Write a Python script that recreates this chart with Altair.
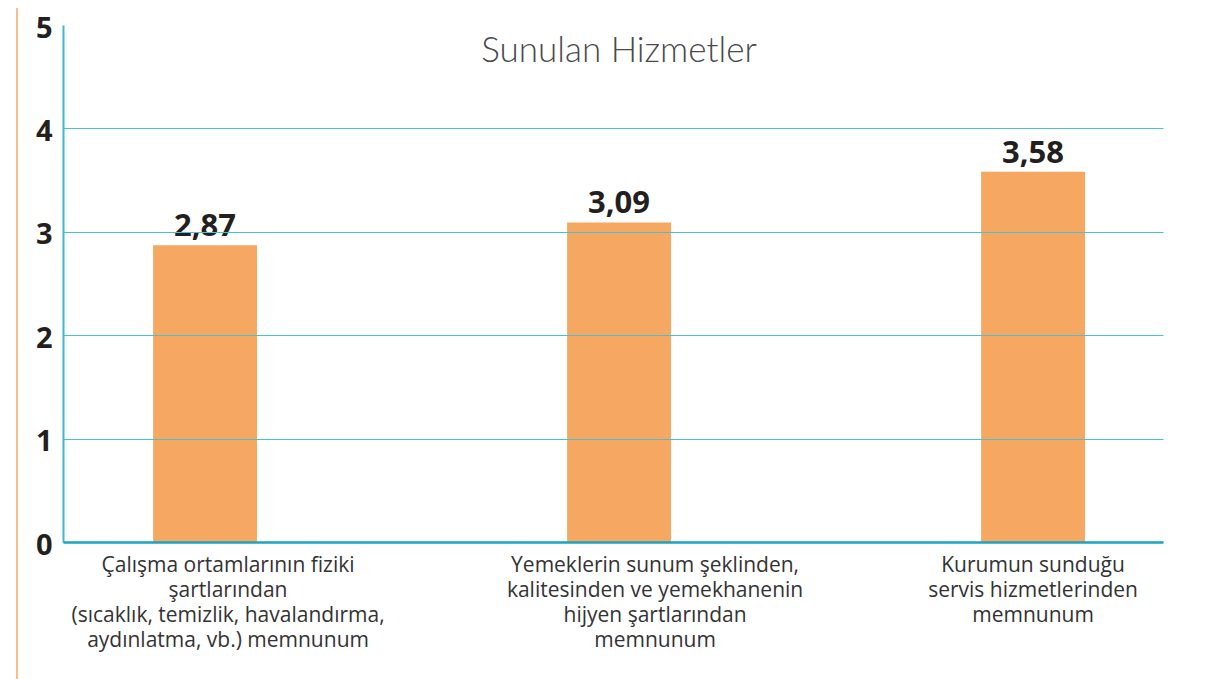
import altair as alt
import pandas as pd

categories = [
    "Çalışma ortamlarının fiziki|şartlarından|(sıcaklık, temizlik, havalandırma,|aydınlatma, vb.) memnunum",
    "Yemeklerin sunum şeklinden,|kalitesinden ve yemekhanenin|hijyen şartlarından|memnunum",
    "Kurumun sunduğu|servis hizmetlerinden|memnunum",
]
values = [2.87, 3.09, 3.58]
title_text = "Sunulan Hizmetler"
y_ticks = [0, 1, 2, 3, 4, 5]

df = pd.DataFrame({"cat": categories, "val": values})

x_enc = alt.X(
    "cat:N",
    sort=None,
    scale=alt.Scale(paddingInner=0.749, paddingOuter=0.203, align=0.536),
    axis=alt.Axis(
        title=None,
        labelExpr="split(datum.label, '|')",
        labelAngle=0,
        labelFont="Open Sans",
        labelFontSize=21,
        labelColor="#333333",
        labelLineHeight=25,
        labelBaseline="top",
        labelPadding=12,
        labelLimit=0,
        labelOffset={
            "condition": [
                {"test": "datum.index < 0.25", "value": 23},
                {"test": "datum.index < 0.75", "value": 36},
            ],
            "value": 0,
        },
        ticks=False,
        domainColor="#17a5bf",
        domainWidth=2.5,
        grid=False,
        zindex=2,
    ),
)

y_enc = alt.Y(
    "val:Q",
    scale=alt.Scale(domain=[0, 5], nice=False),
    axis=alt.Axis(
        title=None,
        values=y_ticks,
        format="d",
        labelFont="Noto Sans",
        labelFontWeight="bold",
        labelFontSize=29,
        labelColor="#231f20",
        labelPadding=11,
        labelBaseline="middle",
        labelOffset=3,
        ticks=False,
        domainColor="#3db9cc",
        domainWidth=2,
        gridColor="#4cc0d3",
        gridWidth=1.2,
        gridOpacity={"condition": {"test": "datum.value == 5", "value": 0}, "value": 1},
        zindex=1,
    ),
)

base = alt.Chart(df)

bars = base.mark_bar(color="#f6a863").encode(x=x_enc, y=y_enc)

labels = base.mark_text(
    font="Noto Sans",
    fontWeight="bold",
    fontSize=31,
    color="#231f20",
    baseline="alphabetic",
    dy=-9,
).encode(
    x=alt.X("cat:N", sort=None),
    y=alt.Y("val:Q"),
    text=alt.Text("lbl:N"),
).transform_calculate(lbl="replace(format(datum.val, '.2f'), '.', ',')")

title = alt.Chart(pd.DataFrame({"t": [title_text]})).mark_text(
    font="Lato",
    fontWeight=300,
    fontSize=35,
    color="#4a4a4a",
    baseline="alphabetic",
    align="center",
).encode(x=alt.value(556), y=alt.value(37), text="t:N")

side_rule = alt.Chart(pd.DataFrame({"a": [0]})).mark_rule(
    color="#f7bd8f", strokeWidth=2
).encode(x=alt.value(-46), y=alt.value(-25), y2=alt.value(680))

chart = (
    alt.layer(side_rule, bars, labels, title)
    .properties(
        width=1100,
        height=517,
        autosize=alt.AutoSizeParams(type="none"),
        padding={"left": 55, "top": 17, "right": 34, "bottom": 150},
    )
    .configure_view(stroke=None)
)

chart.save("out.html", embed_options={"renderer": "svg", "actions": False})
